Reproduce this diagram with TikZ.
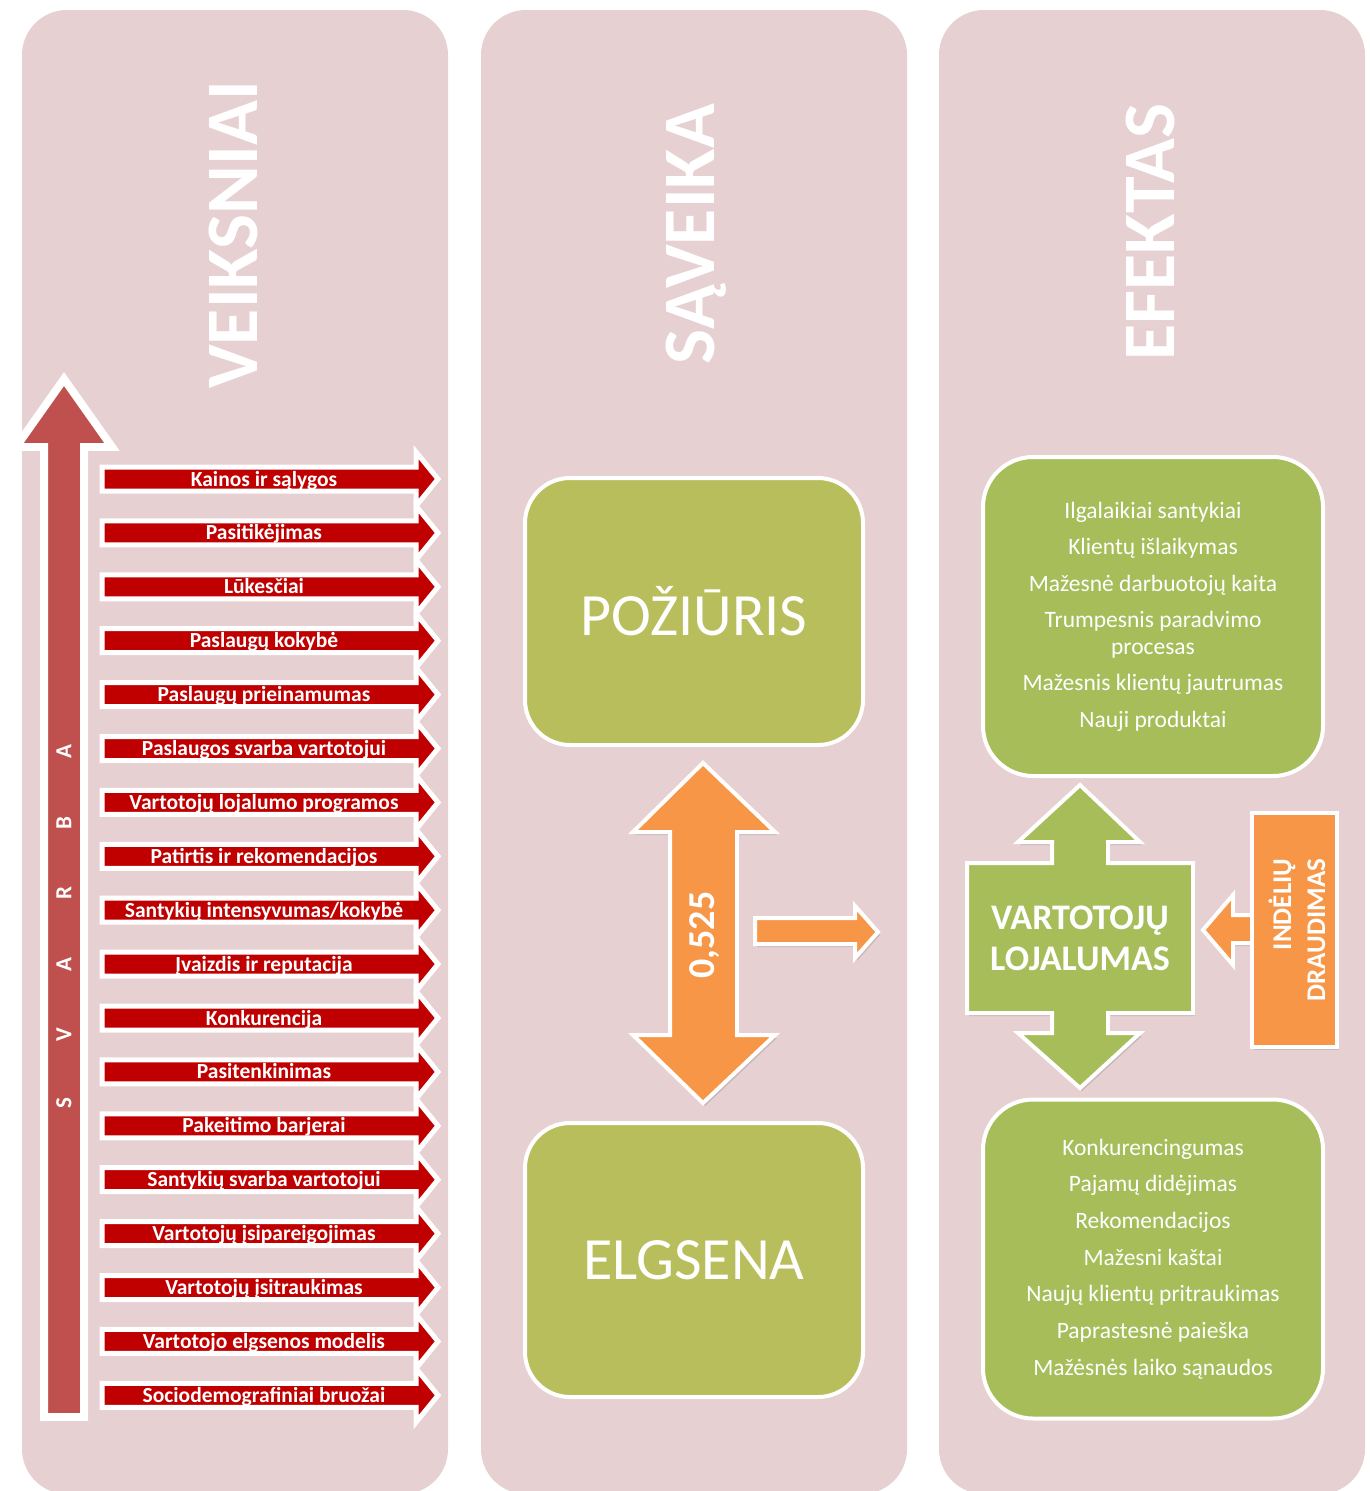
\documentclass[tikz,border=0pt]{standalone}
\usepackage{fontspec}
\setmainfont{Carlito}
\usetikzlibrary{shadows}
\definecolor{panelpink}{RGB}{230,208,209}
\definecolor{darkred}{RGB}{192,0,0}
\definecolor{bigred}{RGB}{192,80,77}
\definecolor{orng}{RGB}{247,150,70}
\definecolor{midgreen}{RGB}{185,190,92}
\definecolor{rgreen}{RGB}{166,189,90}
\tikzset{
  panel/.style={fill=panelpink, rounded corners=45},
  title/.style={rotate=90, anchor=base, text=white, font=\bfseries\fontsize{74}{80}\selectfont},
  redarrow/.style={fill=darkred, draw=white, line width=5, line join=miter},
  redlabel/.style={text=white, font=\bfseries\fontsize{21.5}{24}\selectfont, inner sep=0pt, anchor=base},
  bigarrow/.style={fill=bigred, draw=white, line width=8, line join=miter, drop shadow={shadow xshift=3pt, shadow yshift=-4pt, opacity=0.35}},
  svletter/.style={rotate=90, text=white, font=\bfseries\fontsize{23}{25}\selectfont, inner sep=0pt},
  midbox/.style={fill=midgreen, draw=white, line width=4, rounded corners=45, text=white, font=\fontsize{60}{66}\selectfont},
  rbox/.style={fill=rgreen, draw=white, line width=4, rounded corners=50, minimum width=340, minimum height=319, text=white, align=center, font=\fontsize{23.5}{26.5}\selectfont},
  orangeshape/.style={fill=orng, draw=white, line width=4, line join=miter, drop shadow={shadow xshift=2pt, shadow yshift=-3pt, opacity=0.3}},
  greenshape/.style={fill=rgreen, draw=white, line width=4, line join=miter},
  boldwhite/.style={text=white, font=\bfseries, inner sep=0pt}
}
\begin{document}
\begin{tikzpicture}[x=1pt,y=-1pt]
\useasboundingbox (0,0) rectangle (1370,1491);
\clip (0,0) rectangle (1370,1491);
% panels
\fill[panel] (22,10) rectangle (448,1494);
\fill[panel] (481,10) rectangle (907,1494);
\fill[panel] (939,10) rectangle (1365,1494);
% titles
\node[title] (t1) at (257,235) {VEIKSNIAI};
\node[title] (t2) at (714,234) {SĄVEIKA};
\node[title] (t3) at (1174,232) {EFEKTAS};
% big up arrow
\draw[bigarrow] (64,379) -- (112,447) -- (84,447) -- (84,1417) -- (44,1417) -- (44,447) -- (16,447) -- cycle;
\foreach \l/\yy [count=\i] in {S/1103, V/1035, A/965, R/893, B/823, A/752}{
  \node[svletter] (sv\i) at (64,\yy) {\l};
}
% red arrows
\foreach \t [count=\i from 0] in {Kainos ir sąlygos, Pasitikėjimas, Lūkesčiai, Paslaugų kokybė, Paslaugų prieinamumas, Paslaugos svarba vartotojui, Vartotojų lojalumo programos, Patirtis ir rekomendacijos, Santykių intensyvumas/kokybė, Įvaizdis ir reputacija, Konkurencija, Pasitenkinimas, Pakeitimo barjerai, Santykių svarba vartotojui, Vartotojų įsipareigojimas, Vartotojų įsitraukimas, Vartotojo elgsenos modelis, Sociodemografiniai bruožai}{
  \pgfmathsetmacro\yy{479+53.9*\i}
  \draw[redarrow] (102,\yy-12) -- (416,\yy-12) -- (416,\yy-27) -- (438,\yy) -- (416,\yy+27) -- (416,\yy+12) -- (102,\yy+12) -- cycle;
  \node[redlabel] (f\i) at (264,\yy+7) {\t};
}
% middle boxes
\node[midbox, minimum width=338, minimum height=267] (poz) at (694,611.5) {POŽIŪRIS};
\node[midbox, minimum width=338, minimum height=274] (elg) at (694,1260) {ELGSENA};
% orange double arrow
\draw[orangeshape] (703,763) -- (775,832) -- (737,832) -- (737,1035) -- (775,1035) -- (703,1103) -- (633,1035) -- (670,1035) -- (670,832) -- (633,832) -- cycle;
\node[boldwhite, rotate=90, font=\bfseries\fontsize{38}{40}\selectfont] (val) at (705,935) {0,525};
\draw[orangeshape] (755,918) -- (855,918) -- (855,906) -- (878,932) -- (855,958) -- (855,944) -- (755,944) -- cycle;
% right boxes
\node[rbox] (eff1) at (1153,616.5) {Ilgalaikiai santykiai\\[10pt] Klientų išlaikymas\\[10pt] Mažesnė darbuotojų kaita\\[10pt] Trumpesnis paradvimo\\ procesas\\[10pt] Mažesnis klientų jautrumas\\[10pt] Nauji produktai};
\node[rbox] (eff2) at (1153,1259) {Konkurencingumas\\[10.2pt] Pajamų didėjimas\\[10.2pt] Rekomendacijos\\[10.2pt] Mažesni kaštai\\[10.2pt] Naujų klientų pritraukimas\\[10.2pt] Paprastesnė paieška\\[10.2pt] Mažėsnės laiko sąnaudos};
% green cross
\draw[greenshape, drop shadow={shadow xshift=2pt, shadow yshift=-3pt, opacity=0.3}] (1080,785) -- (1140,842) -- (1108,842) -- (1108,863) -- (1193,863) -- (1193,1013) -- (1108,1013) -- (1108,1033) -- (1140,1033) -- (1080,1088) -- (1018,1033) -- (1052,1033) -- (1052,1013) -- (967,1013) -- (967,863) -- (1052,863) -- (1052,842) -- (1018,842) -- cycle;
\node[boldwhite, align=center, font=\bfseries\fontsize{36}{41}\selectfont] (loj) at (1080,938) {VARTOTOJŲ\\LOJALUMAS};
% orange insurance
\draw[orangeshape] (1203,930) -- (1233,895) -- (1233,915) -- (1258,915) -- (1258,943) -- (1233,943) -- (1233,965) -- cycle;
\node[fill=orng, draw=white, line width=4, minimum width=85, minimum height=234, inner sep=0pt, drop shadow={shadow xshift=2pt, shadow yshift=-3pt, opacity=0.3}] (ind) at (1294.5,930) {};
\node[boldwhite, rotate=90, align=right, font=\bfseries\fontsize{27}{34}\selectfont] (indt) at (1297,930) {INDĖLIŲ\\DRAUDIMAS};
\end{tikzpicture}
\end{document}
